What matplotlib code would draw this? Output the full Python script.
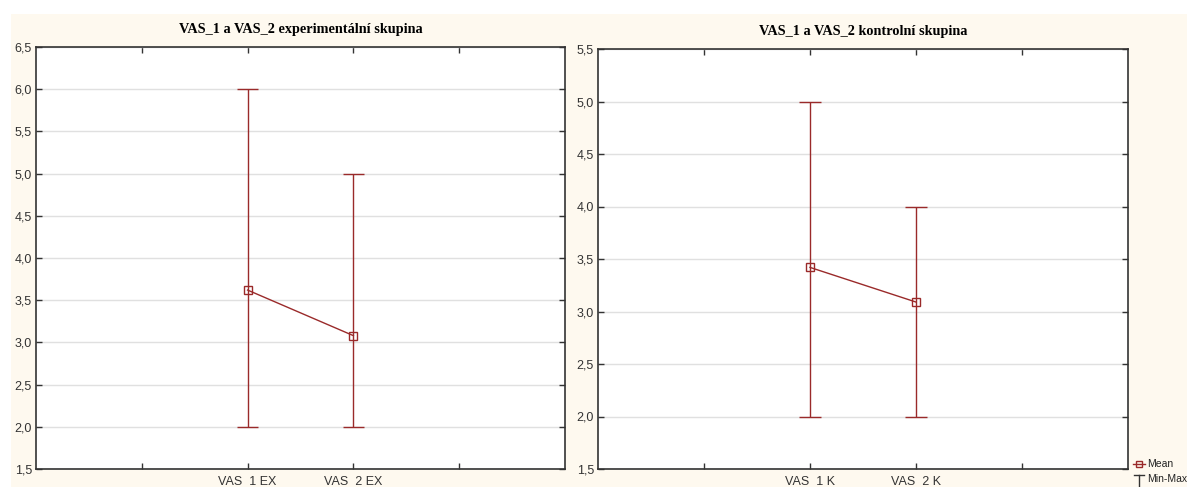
import matplotlib
matplotlib.use("Agg")
import matplotlib.pyplot as plt
from matplotlib.patches import Rectangle
from matplotlib.lines import Line2D
from matplotlib.ticker import FuncFormatter

# Data
cats_ex = ["VAS  1 EX", "VAS  2 EX"]
mean_ex = [3.62, 3.08]
min_ex = [2.0, 2.0]
max_ex = [6.0, 5.0]
title_ex = "VAS_1 a VAS_2 experimentální skupina"
yticks_ex = [1.5, 2.0, 2.5, 3.0, 3.5, 4.0, 4.5, 5.0, 5.5, 6.0, 6.5]

cats_k = ["VAS  1 K", "VAS  2 K"]
mean_k = [3.42, 3.09]
min_k = [2.0, 2.0]
max_k = [5.0, 4.0]
title_k = "VAS_1 a VAS_2 kontrolní skupina"
yticks_k = [1.5, 2.0, 2.5, 3.0, 3.5, 4.0, 4.5, 5.0, 5.5]

legend_labels = ["Mean", "Min-Max"]

W, H = 1187, 487
RED = "#9a2a2a"
BG = "#fef9ef"

fig = plt.figure(figsize=(W / 100, H / 100), dpi=100)
fig.patch.set_facecolor("white")
fig.patches.append(Rectangle((11 / W, 0), 1 - 11 / W, (H - 14) / H,
                             transform=fig.transFigure, facecolor=BG,
                             edgecolor="none", zorder=-10))

comma = FuncFormatter(lambda v, p: f"{v:.1f}".replace(".", ","))


def panel(rect, cats, means, mins, maxs, title, yticks):
    ax = fig.add_axes(rect)
    ax.set_facecolor("white")
    x = [2, 3]
    ax.set_xlim(0, 5)
    ax.set_ylim(yticks[0], yticks[-1])
    ax.set_yticks(yticks)
    ax.yaxis.set_major_formatter(comma)
    ax.set_xticks([1, 2, 3, 4])
    ax.set_xticklabels(["", cats[0], cats[1], ""])
    ax.grid(axis="y", color="#e0e0e0", linewidth=1)
    ax.set_axisbelow(True)
    ax.tick_params(direction="in", length=4, width=1, color="#333333",
                   top=True, right=True, labelsize=9, labelcolor="#333333",
                   pad=3)
    ax.tick_params(axis="x", pad=5)
    for lbl in ax.get_xticklabels() + ax.get_yticklabels():
        lbl.set_family("Liberation Sans")
    for s in ax.spines.values():
        s.set_color("#333333")
        s.set_linewidth(1.2)
    for xi, lo, hi in zip(x, mins, maxs):
        ax.vlines(xi, lo, hi, color=RED, linewidth=1)
        ax.hlines([lo, hi], xi - 0.1, xi + 0.1, color=RED, linewidth=1)
    ax.plot(x, means, color=RED, linewidth=1, marker="s", markersize=6,
            markerfacecolor="none", markeredgecolor=RED, markeredgewidth=1)
    ax.set_title(title, fontsize=10.3, fontweight="bold", family="Liberation Serif",
                 pad=10)
    return ax


panel([36 / W, 18 / H, (565 - 36) / W, (469 - 47) / H],
      cats_ex, mean_ex, min_ex, max_ex, title_ex, yticks_ex)
panel([598 / W, 18 / H, (1128 - 598) / W, (469 - 49) / H],
      cats_k, mean_k, min_k, max_k, title_k, yticks_k)

# Legend (manual, at bottom right)
lx = 1139 / W
fig.add_artist(Line2D([lx - 6 / W, lx + 6 / W], [(H - 464) / H] * 2,
                      color=RED, linewidth=1, transform=fig.transFigure))
fig.add_artist(Line2D([lx], [(H - 464) / H], marker="s", markersize=5,
                      markerfacecolor="none", markeredgecolor=RED,
                      transform=fig.transFigure))
fig.add_artist(Line2D([lx - 5 / W, lx + 5 / W], [(H - 475) / H] * 2,
                      color="#333333", linewidth=1, transform=fig.transFigure))
fig.add_artist(Line2D([lx, lx], [(H - 475) / H, (H - 486) / H],
                      color="#333333", linewidth=1, transform=fig.transFigure))
fig.text(1147 / W, (H - 464) / H, legend_labels[0], fontsize=7.5,
         family="Liberation Sans", va="center", color="#222222")
fig.text(1147 / W, (H - 479) / H, legend_labels[1], fontsize=7.5,
         family="Liberation Sans", va="center", color="#222222")

fig.savefig("out.png", dpi=100)
